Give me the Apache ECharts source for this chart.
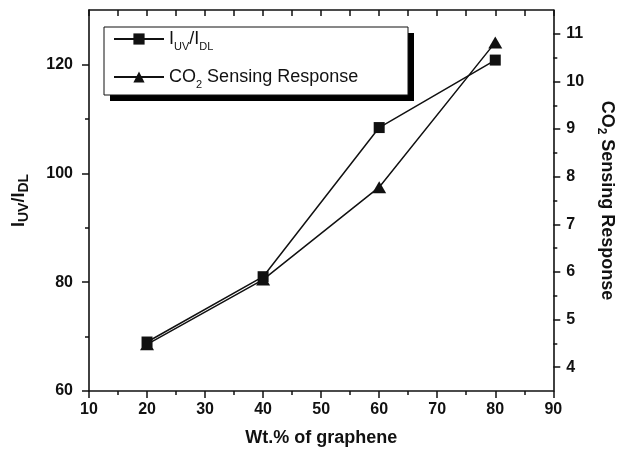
<!DOCTYPE html>
<html>
<head>
<meta charset="utf-8">
<script src="https://cdn.jsdelivr.net/npm/echarts@6/dist/echarts.min.js"></script>
<style>
html,body{margin:0;padding:0;background:#fff;}
#chart{width:624px;height:456px;}
</style>
</head>
<body>
<div id="chart"></div>
<script>
// ---- data ----
var wt = [20, 40, 60, 80];
var ratioUV = [69.0, 81.0, 108.4, 120.8];          // I_UV / I_DL (left axis)
var co2Response = [4.48, 5.84, 7.78, 10.82];        // CO2 sensing response (right axis)

var xTicks = [10, 20, 30, 40, 50, 60, 70, 80, 90];
var leftTicks = [60, 80, 100, 120];
var leftMinor = [70, 90, 110];
var rightTicks = [4, 5, 6, 7, 8, 9, 10, 11];
var rightMinor = [4.5, 5.5, 6.5, 7.5, 8.5, 9.5, 10.5];

var seriesNames = ['IUV/IDL', 'CO2 Sensing Response'];

var FONT = '"Liberation Sans", Arial, Helvetica, sans-serif';
var BLACK = '#111';

var chart = echarts.init(document.getElementById('chart'), null, {renderer: 'canvas'});

var boldLabel = {color: BLACK, fontFamily: FONT, fontWeight: 'bold', fontSize: 16};

var option = {
  animation: false,
  backgroundColor: '#fff',
  grid: {left: 89, right: 65, top: 10, bottom: 65, containLabel: false},
  graphic: [
    {type: 'rect', z: 5, shape: {x: 110, y: 33, width: 304, height: 68}, style: {fill: '#000'}},
    {type: 'rect', z: 6, shape: {x: 104, y: 27, width: 304, height: 68}, style: {fill: '#fff', stroke: BLACK, lineWidth: 1}}
  ],
  legend: {
    orient: 'vertical',
    left: 113,
    top: 30,
    z: 10,
    padding: 0,
    itemGap: 16,
    itemWidth: 50,
    itemHeight: 14,
    data: seriesNames,
    formatter: function (name) {
      if (name === seriesNames[0]) return '{n|I}{s|UV}{n|/I}{s|DL}';
      return '{n|CO}{s|2}{n| Sensing Response}';
    },
    textStyle: {
      color: BLACK,
      fontFamily: FONT,
      rich: {
        n: {fontSize: 18, fontFamily: FONT, color: BLACK, lineHeight: 26, verticalAlign: 'middle'},
        s: {fontSize: 11, fontFamily: FONT, color: BLACK, lineHeight: 26, verticalAlign: 'bottom'}
      }
    }
  },
  xAxis: [
    {
      type: 'value', position: 'bottom', min: 10, max: 90, interval: 10,
      name: 'Wt.% of graphene', nameLocation: 'middle', nameGap: 38,
      nameTextStyle: {color: BLACK, fontFamily: FONT, fontWeight: 'bold', fontSize: 18},
      axisLine: {show: true, lineStyle: {color: BLACK, width: 1.6}},
      axisTick: {show: true, inside: false, length: 7, lineStyle: {color: BLACK, width: 1.5}},
      minorTick: {show: true, splitNumber: 2, length: 4, lineStyle: {color: BLACK, width: 1.5}},
      axisLabel: Object.assign({margin: 11, customValues: xTicks}, boldLabel),
      splitLine: {show: false}
    },
    {
      type: 'value', position: 'top', min: 10, max: 90, interval: 5,
      axisLine: {show: true, lineStyle: {color: BLACK, width: 1.6}},
      axisTick: {show: true, inside: true, length: 6, lineStyle: {color: BLACK, width: 1.5}},
      axisLabel: {show: false},
      splitLine: {show: false}
    }
  ],
  yAxis: [
    {
      type: 'value', position: 'left', min: 60, max: 130,
      name: '{b|I}{bs|UV}{b|/I}{bs|DL}', nameLocation: 'middle', nameGap: 58, nameRotate: 90,
      nameTextStyle: {
        color: BLACK, fontFamily: FONT, fontWeight: 'bold', fontSize: 18,
        rich: {
          b: {fontSize: 18, fontWeight: 'bold', fontFamily: FONT, color: BLACK, lineHeight: 24, verticalAlign: 'middle'},
          bs: {fontSize: 14, fontWeight: 'bold', fontFamily: FONT, color: BLACK, lineHeight: 24, verticalAlign: 'bottom'}
        }
      },
      axisLine: {show: true, lineStyle: {color: BLACK, width: 1.6}},
      axisTick: {show: true, inside: false, length: 7, customValues: leftTicks, lineStyle: {color: BLACK, width: 1.5}},
      axisLabel: Object.assign({margin: 16, customValues: leftTicks}, boldLabel),
      splitLine: {show: false}
    },
    {
      type: 'value', position: 'right', min: 3.5, max: 11.5,
      name: '{b|CO}{bs|2}{b| Sensing Response}', nameLocation: 'middle', nameGap: 38, nameRotate: -90,
      nameTextStyle: {
        color: BLACK, fontFamily: FONT, fontWeight: 'bold', fontSize: 18,
        rich: {
          b: {fontSize: 18, fontWeight: 'bold', fontFamily: FONT, color: BLACK, lineHeight: 24, verticalAlign: 'middle'},
          bs: {fontSize: 12, fontWeight: 'bold', fontFamily: FONT, color: BLACK, lineHeight: 24, verticalAlign: 'bottom'}
        }
      },
      axisLine: {show: true, lineStyle: {color: BLACK, width: 1.6}},
      axisTick: {show: true, inside: false, length: 7, customValues: rightTicks, lineStyle: {color: BLACK, width: 1.5}},
      axisLabel: Object.assign({margin: 13, customValues: rightTicks}, boldLabel),
      splitLine: {show: false}
    },
    {
      type: 'value', position: 'left', min: 60, max: 130,
      axisLine: {show: false},
      axisTick: {show: true, inside: false, length: 4, customValues: leftMinor, lineStyle: {color: BLACK, width: 1.5}},
      axisLabel: {show: false},
      splitLine: {show: false}
    },
    {
      type: 'value', position: 'right', min: 3.5, max: 11.5,
      axisLine: {show: false},
      axisTick: {show: true, inside: false, length: 4, customValues: rightMinor, lineStyle: {color: BLACK, width: 1.5}},
      axisLabel: {show: false},
      splitLine: {show: false}
    }
  ],
  series: [
    {
      name: seriesNames[0], type: 'line', xAxisIndex: 0, yAxisIndex: 0,
      data: wt.map(function (x, i) { return [x, ratioUV[i]]; }),
      symbol: 'rect', symbolSize: 11,
      lineStyle: {color: BLACK, width: 1.5},
      itemStyle: {color: BLACK, borderColor: BLACK, borderWidth: 0}
    },
    {
      name: seriesNames[1], type: 'line', xAxisIndex: 0, yAxisIndex: 1,
      data: wt.map(function (x, i) { return [x, co2Response[i]]; }),
      symbol: 'triangle', symbolSize: [14, 12],
      lineStyle: {color: BLACK, width: 1.5},
      itemStyle: {color: BLACK, borderColor: BLACK, borderWidth: 0}
    }
  ]
};

chart.setOption(option);
</script>
</body>
</html>
